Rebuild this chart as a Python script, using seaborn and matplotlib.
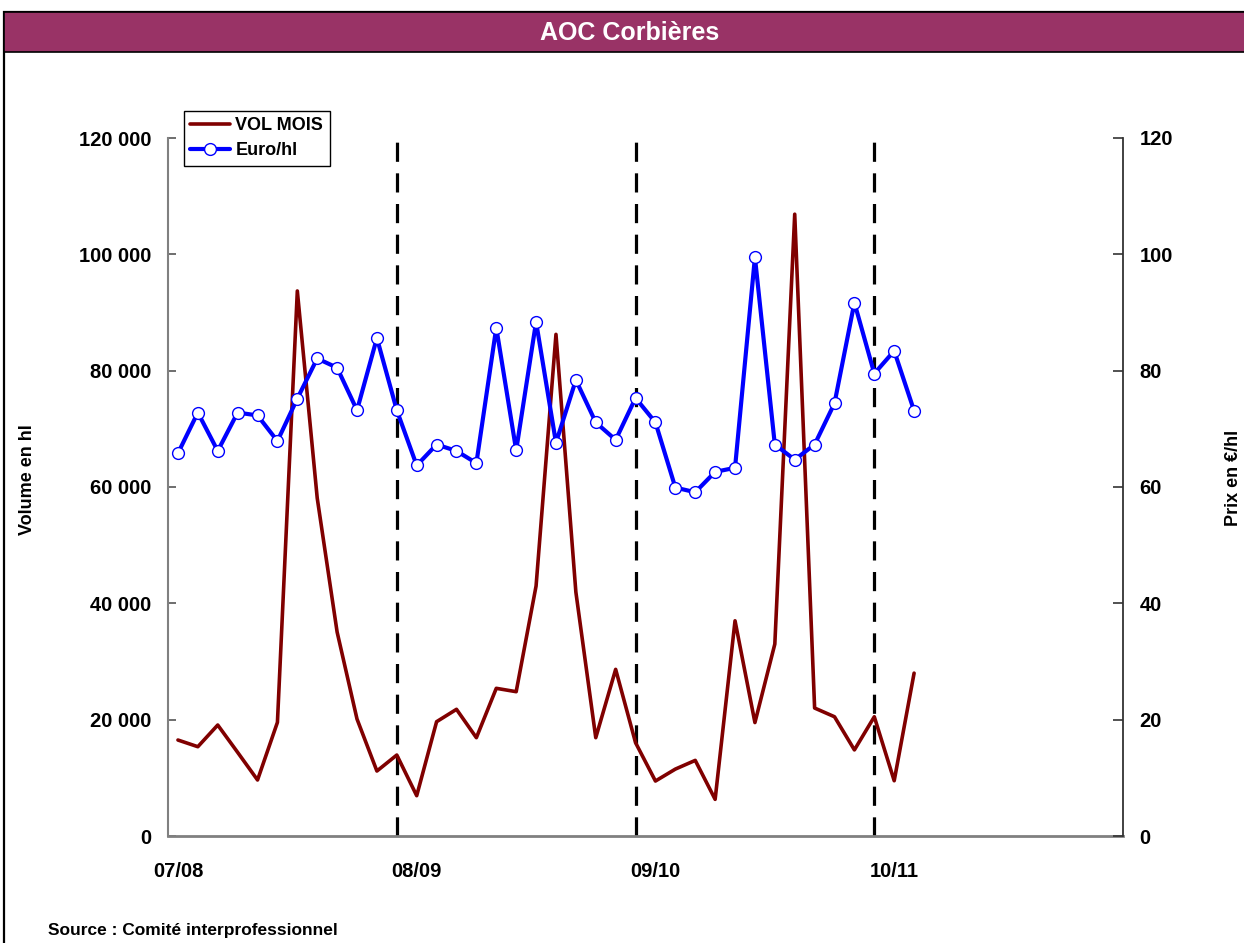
import matplotlib
matplotlib.use("Agg")
import matplotlib.pyplot as plt
import seaborn as sns
import numpy as np
import pandas as pd
from matplotlib.patches import Rectangle
from matplotlib.ticker import FuncFormatter
from matplotlib.lines import Line2D

# ---------------- data ----------------
season_labels = ["07/08", "08/09", "09/10", "10/11"]
season_positions = [0, 12, 24, 36]
season_breaks = [11, 23, 35]

vol_mois = [16500, 15350, 19080, 14380, 9630, 19540, 93700, 58100, 35070, 20110,
            11170, 13920, 6930, 19650, 21780, 16900, 25390, 24810, 42980, 86240,
            41940, 16900, 28650, 16040, 9450, 11500, 13000, 6300, 37000, 19500,
            33000, 106900, 22000, 20500, 14800, 20500, 9500, 28000]
euro_hl = [65.8, 72.8, 66.2, 72.8, 72.3, 67.9, 75.2, 82.1, 80.5, 73.2,
           85.6, 73.2, 63.7, 67.3, 66.2, 64.1, 87.4, 66.3, 88.4, 67.6,
           78.4, 71.1, 68.1, 75.3, 71.1, 59.9, 59.1, 62.6, 63.3, 99.5,
           67.3, 64.7, 67.3, 74.4, 91.7, 79.5, 83.4, 73.1]
month_index = list(range(len(vol_mois)))

df = pd.DataFrame({"mois": month_index, "VOL MOIS": vol_mois, "Euro/hl": euro_hl})

# ---------------- style ----------------
sns.set_style("white")
plt.rcParams["font.family"] = ["Liberation Sans", "DejaVu Sans"]
plt.rcParams["font.weight"] = "bold"
for k in ("text.color", "axes.labelcolor", "xtick.color", "ytick.color"):
    plt.rcParams[k] = "black"

W, H = 1244, 943
fig = plt.figure(figsize=(W / 100, H / 100), dpi=100)

# frame and title bar
fig.patches.append(Rectangle((4 / W, -0.1), 1.2, (H - 12) / H + 0.1,
                             transform=fig.transFigure, facecolor="none",
                             edgecolor="black", linewidth=1.6, zorder=0))
fig.patches.append(Rectangle((4 / W, 1 - 52 / H), 1.2, 40 / H,
                             transform=fig.transFigure, facecolor="#993366",
                             edgecolor="black", linewidth=1.2, zorder=0))
fig.text(630 / W, 1 - 33 / H, "AOC Corbières", color="white", fontsize=18,
         fontweight="bold", ha="center", va="center")

left, right, bottom, top = 168, 1123, 836, 138
ax = fig.add_axes([left / W, 1 - bottom / H, (right - left) / W, (bottom - top) / H])
ax2 = ax.twinx()

# season separators
for b in season_breaks:
    ax.axvline(b, color="black", lw=2.3, dashes=(6, 3.6), zorder=1)

sns.lineplot(data=df, x="mois", y="VOL MOIS", ax=ax, color="#800000", lw=2.6,
             zorder=3, legend=False)
sns.lineplot(data=df, x="mois", y="Euro/hl", ax=ax2, color="#0000FF", lw=3.0,
             marker="o", markersize=8.5, markerfacecolor="white",
             markeredgecolor="#0000FF", markeredgewidth=1.0, zorder=4, legend=False)

ax.set_xlim(-0.5, 47.5)
ax.set_ylim(0, 120000)
ax2.set_ylim(0, 120)
ax.set_yticks(np.arange(0, 120001, 20000))
ax2.set_yticks(np.arange(0, 121, 20))
ax.yaxis.set_major_formatter(FuncFormatter(lambda v, p: f"{v:,.0f}".replace(",", " ")))
ax.set_xticks(season_positions)
ax.set_xticklabels(season_labels)

for a in (ax, ax2):
    a.set_xlabel("")
    a.set_ylabel("")
    a.spines["top"].set_visible(False)
    a.grid(False)

ax.spines["left"].set_color("#808080")
ax.spines["left"].set_linewidth(1.5)
ax.spines["bottom"].set_color("#808080")
ax.spines["bottom"].set_linewidth(2.0)
ax.spines["right"].set_visible(False)
ax2.spines["left"].set_visible(False)
ax2.spines["bottom"].set_visible(False)
ax2.spines["right"].set_color("#333333")
ax2.spines["right"].set_linewidth(1.3)

ax.tick_params(axis="y", direction="in", length=6, width=1.2, color="#555555",
               pad=12, labelsize=14.5, left=True, labelcolor="black")
ax.tick_params(axis="x", length=0, pad=19, labelsize=14.5, labelcolor="black")
ax2.tick_params(axis="y", direction="in", length=7, width=1.2, color="#333333",
                pad=12, labelsize=14.5, right=True, labelcolor="black")
for lab in ax.get_xticklabels() + ax.get_yticklabels() + ax2.get_yticklabels():
    lab.set_fontweight("bold")

# axis titles
fig.text(27 / W, 1 - 480 / H, "Volume en hl", rotation=90, fontsize=13,
         fontweight="bold", ha="center", va="center", color="black")
fig.text(1233 / W, 1 - 478 / H, "Prix en €/hl", rotation=90, fontsize=13,
         fontweight="bold", ha="center", va="center", color="black")

# legend
handles = [Line2D([], [], color="#800000", lw=2.6),
           Line2D([], [], color="#0000FF", lw=3.0, marker="o", markersize=8.5,
                  markerfacecolor="white", markeredgecolor="#0000FF")]
leg = ax2.legend(handles, ["VOL MOIS", "Euro/hl"], loc="upper left",
                 bbox_to_anchor=((184 - left) / (right - left), (bottom - 111) / (bottom - top)),
                 borderaxespad=0, frameon=True, fancybox=False, framealpha=1,
                 edgecolor="black", handlelength=2.2, handletextpad=0.3,
                 borderpad=0.35, labelspacing=0.45,
                 prop={"weight": "bold", "size": 13})
leg.get_frame().set_linewidth(1.0)
for t in leg.get_texts():
    t.set_color("black")

# source
fig.text(48 / W, 1 - 931 / H, "Source : Comité interprofessionnel", fontsize=12.5,
         fontweight="bold", ha="left", va="center", color="black")

fig.savefig("out.png", dpi=100)
